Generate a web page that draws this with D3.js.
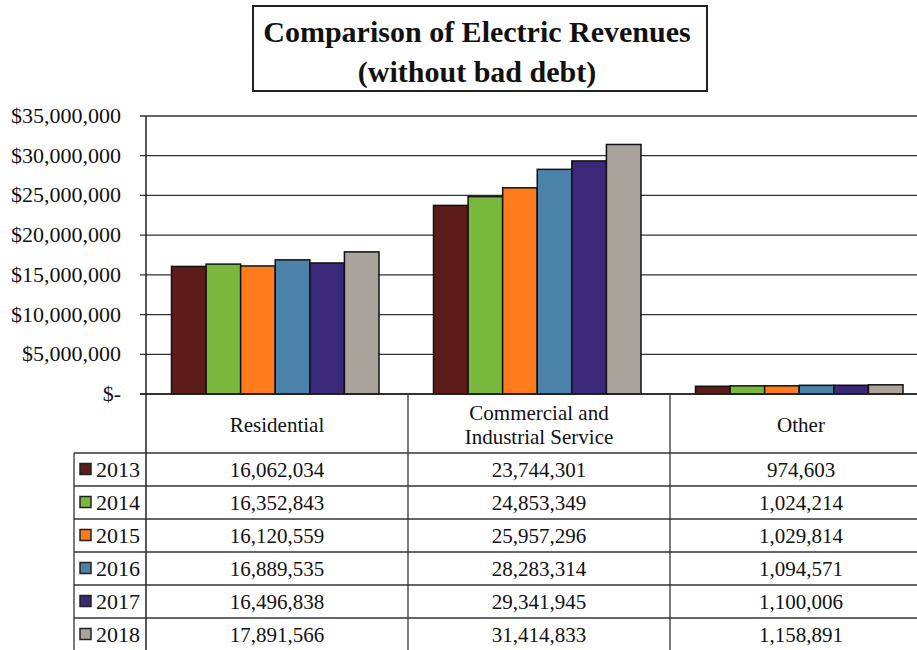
<!DOCTYPE html>
<html><head><meta charset="utf-8">
<script src="https://cdn.jsdelivr.net/npm/d3@7"></script>
<style>body{margin:0;background:#fff} svg{display:block;font-family:"Liberation Serif","Times New Roman",serif}</style>
</head><body><svg id="c" width="917" height="650"></svg>
<script>
const categories = ["Residential", "Commercial and Industrial Service", "Other"];
const categoryLines = [["Residential"], ["Commercial and", "Industrial Service"], ["Other"]];
const years = ["2013", "2014", "2015", "2016", "2017", "2018"];
const colors = ["#5b1c1a", "#78b83c", "#ff7b1c", "#4b82a9", "#3a2878", "#aaa39b"];
const v2013 = [16062034, 23744301, 974603];
const v2014 = [16352843, 24853349, 1024214];
const v2015 = [16120559, 25957296, 1029814];
const v2016 = [16889535, 28283314, 1094571];
const v2017 = [16496838, 29341945, 1100006];
const v2018 = [17891566, 31414833, 1158891];
const seriesValues = [v2013, v2014, v2015, v2016, v2017, v2018];
const yTicks = [0, 5e6, 10e6, 15e6, 20e6, 25e6, 30e6, 35e6];

const svg = d3.select("#c");
const W = 917;
const axisX = 146, y0 = 394, yTop = 116;
const rowTop = 453, rowH = 33;

const x = d3.scaleBand().domain(categories).range([axisX, axisX + 3 * 262]);
const x1 = d3.scaleBand().domain(years).range([25.5, 233]);
const y = d3.scaleLinear().domain([0, 35e6]).range([y0, yTop]);

// title box
svg.append("rect").attr("x", 253).attr("y", 6).attr("width", 454).attr("height", 85)
  .attr("fill", "#fff").attr("stroke", "#222").attr("stroke-width", 2);
svg.append("text").attr("x", 477).attr("y", 42).attr("text-anchor", "middle")
  .attr("font-size", 30).attr("font-weight", "bold").attr("fill", "#111")
  .text("Comparison of Electric Revenues");
svg.append("text").attr("x", 477).attr("y", 82).attr("text-anchor", "middle")
  .attr("font-size", 30).attr("font-weight", "bold").attr("fill", "#111")
  .text("(without bad debt)");

// gridlines + ticks
const fmt = d3.format(",");
svg.append("g").selectAll("line").data(yTicks).join("line")
  .attr("x1", axisX - 6).attr("x2", W).attr("y1", d => y(d)).attr("y2", d => y(d))
  .attr("stroke", "#333").attr("stroke-width", 1.3);
svg.append("g").selectAll("text").data(yTicks).join("text")
  .attr("x", 121).attr("y", d => y(d) + 7).attr("text-anchor", "end")
  .attr("font-size", 22).attr("fill", "#111")
  .text(d => d === 0 ? "$-" : "$" + fmt(d));

// bars
const g = svg.append("g");
years.forEach((yr, i) => {
  g.append("g").selectAll("rect").data(categories).join("rect")
    .attr("x", c => x(c) + x1(yr))
    .attr("y", (c, j) => y(seriesValues[i][j]))
    .attr("width", x1.bandwidth())
    .attr("height", (c, j) => y0 - y(seriesValues[i][j]))
    .attr("fill", colors[i]).attr("stroke", "#111").attr("stroke-width", 1.5);
});

// axis line
svg.append("line").attr("x1", axisX).attr("x2", axisX).attr("y1", yTop).attr("y2", 650)
  .attr("stroke", "#222").attr("stroke-width", 1.5);
svg.append("line").attr("x1", axisX - 6).attr("x2", W).attr("y1", y0).attr("y2", y0)
  .attr("stroke", "#222").attr("stroke-width", 1.5);

// table
const tbl = svg.append("g").attr("stroke", "#333").attr("stroke-width", 1.3);
categories.forEach(c => {
  tbl.append("line").attr("x1", x(c) + x.bandwidth()).attr("x2", x(c) + x.bandwidth())
    .attr("y1", y0).attr("y2", 650);
});
tbl.append("line").attr("x1", 74).attr("x2", 74).attr("y1", rowTop).attr("y2", 650);
d3.range(years.length + 1).forEach(k => {
  tbl.append("line").attr("x1", 74).attr("x2", W)
    .attr("y1", rowTop + k * rowH).attr("y2", rowTop + k * rowH);
});

// header labels
categories.forEach((c, j) => {
  const lines = categoryLines[j];
  const cx = x(c) + x.bandwidth() / 2;
  const cy = (y0 + rowTop) / 2 + 2;
  lines.forEach((t, k) => {
    svg.append("text").attr("x", cx)
      .attr("y", cy + 6 + (k - (lines.length - 1) / 2) * 24)
      .attr("text-anchor", "middle").attr("font-size", 21).attr("fill", "#111").text(t);
  });
});

// rows
years.forEach((yr, i) => {
  const cy = rowTop + i * rowH + rowH / 2;
  svg.append("rect").attr("x", 80).attr("y", cy - 6).attr("width", 11).attr("height", 11)
    .attr("fill", colors[i]).attr("stroke", "#222").attr("stroke-width", 1.5);
  svg.append("text").attr("x", 96).attr("y", cy + 7).attr("font-size", 22).attr("fill", "#111").text(yr);
  categories.forEach((c, j) => {
    svg.append("text").attr("x", x(c) + x.bandwidth() / 2).attr("y", cy + 7)
      .attr("text-anchor", "middle").attr("font-size", 21).attr("fill", "#111")
      .text(fmt(seriesValues[i][j]));
  });
});
</script></body></html>
